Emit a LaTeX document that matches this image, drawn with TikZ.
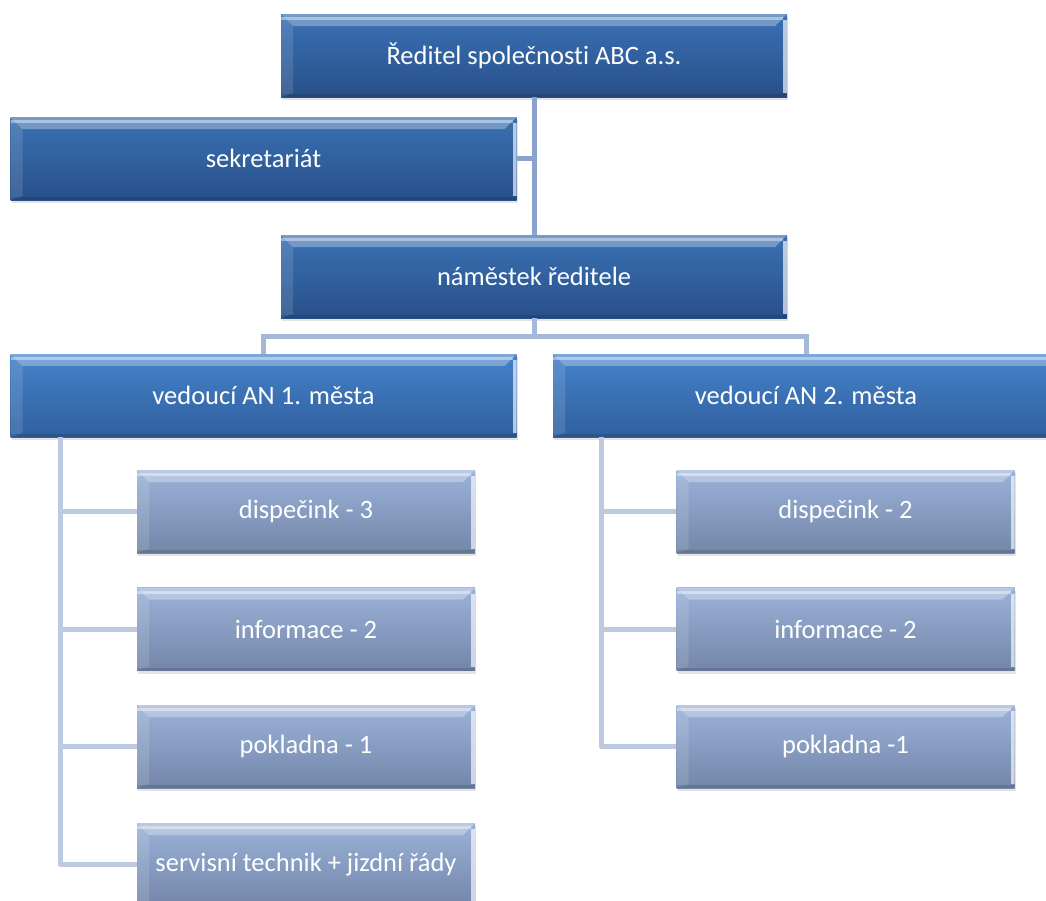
\documentclass[tikz,border=0pt]{standalone}
\usepackage{fontspec}
\setmainfont[Ligatures=NoCommon]{Carlito}
\usepackage{xcolor}
\usepackage{tikz}
\usetikzlibrary{calc,shadows}
\definecolor{bossA}{HTML}{3A71B4}
\definecolor{bossB}{HTML}{28508A}
\definecolor{leadA}{HTML}{4582C9}
\definecolor{leadB}{HTML}{30609F}
\definecolor{unitA}{HTML}{9BB2D9}
\definecolor{unitB}{HTML}{7386A8}
\definecolor{linkc}{HTML}{8AA2CC}
\definecolor{busc}{HTML}{A6B8D8}
\definecolor{twigc}{HTML}{BDC9DF}
\tikzset{
  bevel/.style={path picture={
    \fill[white,opacity=.30] (path picture bounding box.north west) -- (path picture bounding box.north east)
      -- ([xshift=-12pt,yshift=-12pt]path picture bounding box.north east) -- ([xshift=12pt,yshift=-12pt]path picture bounding box.north west) -- cycle;
    \fill[white,opacity=.40] ([yshift=-3pt]path picture bounding box.north west) rectangle ([xshift=-4pt,yshift=-6pt]path picture bounding box.north east);
    \fill[white,opacity=.12] (path picture bounding box.north west) -- ([xshift=12pt,yshift=-12pt]path picture bounding box.north west)
      -- ([xshift=12pt,yshift=4pt]path picture bounding box.south west) -- (path picture bounding box.south west) -- cycle;
    \fill[white,opacity=.65] ([xshift=-4pt,yshift=-6pt]path picture bounding box.north east) rectangle ([yshift=4pt]path picture bounding box.south east);
    \fill[black,opacity=.12] (path picture bounding box.south west) rectangle ([yshift=3pt]path picture bounding box.south east);
  }},
  box/.style={rectangle, inner sep=0pt, text=white, font=\fontsize{26.5}{30}\selectfont,
    draw=none, bevel, drop shadow={opacity=.22, shadow xshift=1pt, shadow yshift=-3pt}},
  boss/.style={box, minimum width=506pt, minimum height=83pt, top color=bossA, bottom color=bossB},
  lead/.style={box, minimum width=506pt, minimum height=83pt, top color=leadA, bottom color=leadB},
  unit/.style={box, minimum width=338pt, minimum height=83pt, top color=unitA, bottom color=unitB},
  link/.style={draw=linkc, line width=5pt},
  bus/.style={draw=busc, line width=5pt},
  twig/.style={draw=twigc, line width=5pt, line join=round}
}
\begin{document}
\begin{tikzpicture}[x=1pt,y=-1pt]
  \useasboundingbox (0,0) rectangle (1046,900);

  % boxes
  \node[boss] (reditel) at (534,55.5) {Ředitel společnosti ABC a.s.};
  \node[boss] (sekret) at (263.5,158.5) {sekretariát};
  \node[boss] (namestek) at (534,276.5) {náměstek ředitele};
  \node[lead] (ved1) at (263.5,395.5) {vedoucí AN 1. města};
  \node[lead] (ved2) at (806,395.5) {vedoucí AN 2. města};

  \node[unit] (disp1) at (306,511.5) {dispečink - 3};
  \node[unit] (info1) at (306,629) {informace - 2};
  \node[unit] (pokl1) at (306,746.5) {pokladna - 1};
  \node[unit] (serv1) at (306,864.5) {servisní technik + jizdní řády};

  \node[unit] (disp2) at (845.5,511.5) {dispečink - 2};
  \node[unit] (info2) at (845.5,629) {informace - 2};
  \node[unit] (pokl2) at (845.5,746.5) {pokladna -1};

  % connectors
  \coordinate (t1) at ([xshift=50pt]ved1.south west);
  \coordinate (t2) at ([xshift=49pt]ved2.south west);
  \coordinate (bus) at ($(namestek.south)!.5!(namestek.south |- ved1.north)$);

  \draw[link] (reditel.south) -- (namestek.north);
  \draw[link] (sekret.east) -- (sekret.east -| reditel.south);
  \draw[bus] (namestek.south) -- (bus) -| (ved1.north);
  \draw[bus] (bus) -| (ved2.north);
  \foreach \c in {disp1,info1,pokl1,serv1}
    \draw[twig] (t1) |- (\c.west);
  \foreach \c in {disp2,info2,pokl2}
    \draw[twig] (t2) |- (\c.west);
\end{tikzpicture}
\end{document}
